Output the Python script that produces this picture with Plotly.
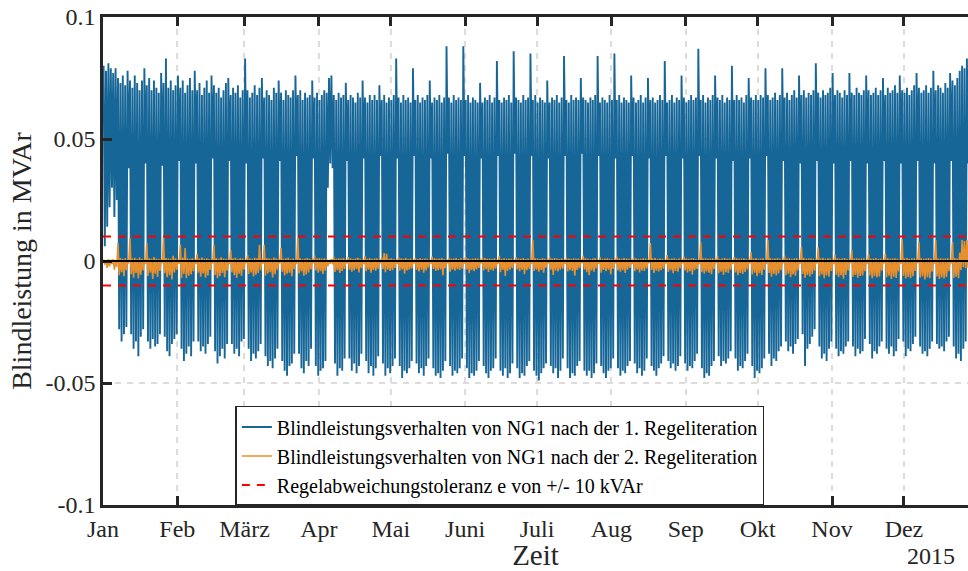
import pandas as pd
import plotly.graph_objects as go

# Daily extremes in kVAr, one row per calendar week (Mon..Sun).
# First row starts Thu 1 Jan 2015, last row ends Thu 31 Dec 2015.
BLUE_HIGH = [
    80, 78, 81, 79,
    77, 79, 75, 73, 76, 72, 78,
    74, 71, 76, 73, 70, 74, 79,
    72, 75, 70, 74, 71, 69, 77,
    73, 83, 71, 74, 70, 72, 76,
    71, 74, 69, 72, 75, 70, 78,
    70, 73, 68, 71, 74, 69, 76,
    72, 69, 71, 67, 70, 73, 75,
    68, 71, 69, 72, 67, 70, 83,
    70, 67, 69, 72, 68, 71, 75,
    67, 70, 68, 66, 71, 69, 74,
    69, 66, 70, 68, 67, 70, 76,
    68, 70, 66, 69, 67, 68, 74,
    67, 69, 66, 68, 70, 69, 75,
    76, 68, 66, 69, 67, 68, 73,
    66, 68, 67, 65, 69, 67, 74,
    67, 65, 68, 66, 68, 66, 72,
    66, 68, 65, 67, 66, 68, 83,
    67, 65, 68, 66, 67, 65, 79,
    66, 68, 65, 67, 66, 68, 74,
    65, 67, 66, 68, 65, 67, 88,
    67, 65, 68, 66, 67, 66, 88,
    66, 68, 65, 67, 66, 65, 73,
    65, 67, 66, 68, 65, 67, 82,
    66, 65, 67, 66, 68, 65, 86,
    67, 66, 65, 68, 66, 67, 85,
    66, 68, 65, 67, 66, 65, 74,
    65, 67, 66, 68, 65, 67, 84,
    66, 65, 68, 66, 67, 66, 75,
    67, 66, 65, 67, 66, 68, 84,
    65, 67, 66, 65, 68, 66, 85,
    66, 68, 65, 67, 66, 65, 76,
    67, 65, 66, 68, 65, 67, 75,
    66, 67, 65, 66, 68, 66, 82,
    65, 66, 68, 65, 67, 66, 76,
    67, 65, 66, 68, 66, 67, 87,
    66, 68, 65, 67, 66, 68, 76,
    67, 66, 68, 65, 67, 66, 80,
    66, 68, 66, 67, 65, 68, 75,
    67, 66, 68, 66, 68, 67, 79,
    68, 66, 67, 69, 66, 68, 79,
    67, 69, 66, 68, 70, 67, 76,
    68, 70, 67, 69, 68, 70, 81,
    69, 67, 70, 68, 69, 71, 77,
    68, 70, 69, 67, 70, 68, 77,
    69, 68, 71, 69, 68, 70, 76,
    70, 68, 69, 71, 68, 70, 75,
    68, 71, 69, 70, 72, 69, 76,
    70, 69, 71, 68, 70, 72, 77,
    71, 69, 70, 72, 69, 71, 78,
    70, 72, 71, 69, 73, 71, 77,
    74, 72, 75, 78, 80, 79, 83,
    80, 78, 81, 79,
]

BLUE_LOW = [
    6, 14, 22, 30,
    18, 25, -28, -33, -30, -27, 38,
    -30, -36, -33, -39, -31, -28, 40,
    -33, -36, -32, -35, -34, -30, 39,
    -31, -37, -39, -34, -32, -30, 41,
    -36, -41, -38, -35, -39, -33, 40,
    -33, -37, -35, -38, -34, -31, 42,
    -37, -42, -39, -36, -40, -34, 41,
    -34, -38, -36, -39, -33, -32, 40,
    -36, -41, -38, -40, -37, -34, 42,
    -39, -43, -41, -44, -40, -36, 41,
    -41, -45, -47, -43, -42, -38, 43,
    -38, -44, -46, -41, -43, -36, 42,
    -43, -47, -45, -44, -41, 30, 40,
    38, -42, -47, -44, -45, -40, 41,
    -40, -45, -42, -46, -43, -38, 42,
    -41, -46, -43, -47, -44, -39, 43,
    -42, -47, -44, -46, -43, -40, 42,
    -43, -48, -45, -46, -44, -41, 43,
    -42, -46, -44, -47, -43, -40, 42,
    -44, -47, -46, -48, -45, -41, 44,
    -43, -47, -45, -46, -44, -40, 43,
    -44, -48, -46, -47, -45, -41, 42,
    -43, -46, -48, -45, -44, -40, 43,
    -45, -47, -44, -48, -46, -42, 44,
    -44, -48, -46, -47, -43, -41, 43,
    -45, -47, -49, -46, -44, -42, 42,
    -43, -46, -44, -48, -45, -40, 43,
    -44, -48, -46, -47, -43, -41, 44,
    -45, -47, -45, -48, -46, -42, 43,
    -43, -46, -48, -45, -44, -40, 42,
    -44, -47, -45, -46, -43, -41, 43,
    -42, -46, -44, -47, -45, -40, 42,
    -43, -45, -47, -44, -42, -39, 43,
    -41, -44, -42, -45, -43, -39, 42,
    -42, -45, -43, -44, -41, -38, 43,
    -44, -48, -46, -47, -43, -41, 42,
    -39, -43, -41, -42, -40, -37, 41,
    -40, -45, -43, -44, -41, -38, 42,
    -43, -48, -45, -46, -44, -40, 43,
    -38, -43, -40, -41, -37, -35, 41,
    -33, -37, -35, -38, -34, -32, 40,
    -30, -43, -36, -34, -31, -28, 41,
    -35, -40, -38, -41, -36, -33, 40,
    -36, -39, -37, -38, -35, -33, 41,
    -35, -39, -36, -38, -37, -32, 40,
    -34, -40, -37, -38, -35, -33, 41,
    -36, -38, -35, -39, -37, -32, 40,
    -33, -39, -36, -37, -34, -31, 41,
    -35, -38, -37, -39, -36, -33, 40,
    -34, -36, -35, -37, -33, -31, 41,
    -35, -40, -38, -41, -36, -33, 40,
    -34, -38, -36, -37,
]

ORANGE_HIGH = [
    0.6, 0.4, 0.8, 0.5,
    0.7, 0.5, 7.4, 1.2, 0.9, 1.1, 0.6,
    9.4, 1.0, 1.3, 0.8, 1.4, 0.9, 0.5,
    7.4, 1.1, 0.9, 1.6, 1.0, 0.8, 0.6,
    9.4, 1.2, 1.0, 0.9, 2.1, 1.1, 0.5,
    6.6, 1.3, 5.3, 1.0, 0.8, 1.2, 0.6,
    2.8, 1.0, 1.4, 0.9, 1.1, 0.8, 0.5,
    6.6, 1.2, 0.9, 1.5, 1.0, 0.9, 0.6,
    4.5, 1.1, 1.3, 0.8, 1.2, 1.0, 0.5,
    2.4, 1.0, 0.9, 1.3, 1.1, 6.6, 0.7,
    6.6, 1.2, 1.0, 0.9, 1.4, 1.1, 0.6,
    5.3, 0.9, 1.1, 1.3, 0.8, 1.0, 0.5,
    9.4, 1.1, 0.8, 1.0, 1.2, 0.9, 0.6,
    2.2, 1.0, 1.2, 0.9, 1.1, 0.8, 0.5,
    0.7, 1.8, 0.9, 1.1, 1.0, 1.2, 0.6,
    1.6, 1.1, 0.8, 1.0, 1.3, 0.9, 0.5,
    2.0, 0.9, 1.2, 0.8, 1.0, 1.1, 0.6,
    1.4, 3.3, 3.0, 0.9, 1.1, 0.8, 0.5,
    1.5, 1.0, 0.9, 1.2, 0.8, 1.0, 0.6,
    1.2, 0.8, 1.1, 0.9, 1.0, 0.9, 0.5,
    1.8, 1.1, 0.9, 1.0, 1.2, 0.8, 0.6,
    1.3, 0.9, 1.0, 1.2, 0.8, 1.1, 0.5,
    1.6, 1.0, 0.8, 0.9, 1.1, 1.0, 0.6,
    1.4, 1.2, 0.9, 1.0, 0.8, 1.1, 0.5,
    2.1, 0.8, 1.1, 0.9, 1.0, 0.9, 0.6,
    1.5, 1.0, 0.9, 1.2, 0.8, 1.0, 0.5,
    8.6, 1.1, 1.0, 0.8, 1.2, 0.9, 0.6,
    1.7, 0.9, 1.2, 1.0, 0.8, 1.1, 0.5,
    1.3, 1.0, 0.8, 1.1, 0.9, 1.0, 0.6,
    2.2, 1.1, 0.9, 0.8, 1.0, 1.2, 0.5,
    1.6, 0.8, 1.0, 1.1, 0.9, 0.8, 0.6,
    1.9, 1.0, 0.9, 1.2, 1.0, 0.9, 0.5,
    1.4, 1.1, 0.8, 0.9, 1.1, 1.0, 0.6,
    7.4, 1.0, 1.2, 0.8, 1.0, 0.9, 0.5,
    2.4, 0.9, 1.0, 1.1, 0.8, 1.0, 0.6,
    1.8, 1.1, 0.9, 1.0, 1.2, 0.8, 0.5,
    7.8, 1.0, 1.1, 0.9, 1.0, 1.1, 0.6,
    2.0, 0.8, 1.0, 1.2, 0.9, 1.0, 0.5,
    1.6, 1.1, 0.9, 1.0, 1.1, 0.8, 0.6,
    3.6, 1.0, 1.2, 0.9, 1.0, 1.1, 0.5,
    8.6, 1.1, 0.9, 1.0, 1.2, 0.9, 0.6,
    2.2, 1.0, 1.1, 0.8, 1.0, 1.2, 0.5,
    5.7, 1.2, 0.9, 1.1, 1.0, 0.9, 0.6,
    5.5, 1.0, 1.2, 0.9, 1.1, 1.0, 0.5,
    2.6, 1.1, 0.9, 1.0, 1.2, 0.8, 0.6,
    4.5, 1.0, 1.1, 0.9, 1.0, 1.1, 0.5,
    2.8, 0.9, 1.0, 1.2, 0.8, 1.0, 0.6,
    3.0, 1.1, 0.9, 1.0, 1.1, 0.9, 0.5,
    9.0, 1.0, 1.2, 0.9, 1.0, 1.1, 0.6,
    7.8, 1.1, 0.9, 1.0, 1.2, 1.0, 0.6,
    8.6, 1.0, 1.1, 0.9, 1.0, 1.1, 0.6,
    7.8, 1.2, 1.0, 3.5, 8.6, 8.2, 8.6,
    6.0, 4.0, 3.5, 5.0,
]

ORANGE_LOW = [
    -1.5, -2.8, -2.2, -1.2,
    -3.6, -2.4, -5.8, -4.6, -6.2, -3.8, -1.0,
    -5.4, -6.8, -4.9, -7.2, -5.6, -3.9, -1.2,
    -6.1, -4.8, -7.4, -5.2, -6.5, -4.1, -0.9,
    -5.0, -6.6, -5.8, -7.6, -4.7, -3.6, -1.1,
    -6.9, -5.3, -7.1, -6.0, -5.5, -4.2, -1.3,
    -4.8, -6.4, -5.1, -6.8, -5.9, -3.7, -1.0,
    -5.7, -7.0, -6.2, -4.9, -6.6, -4.0, -1.2,
    -4.6, -5.8, -6.9, -5.2, -6.1, -3.5, -0.9,
    -5.3, -4.7, -6.3, -5.6, -4.9, -3.8, -1.1,
    -6.0, -5.1, -4.6, -6.7, -5.4, -3.6, -1.0,
    -4.4, -5.9, -5.2, -4.8, -6.2, -3.3, -1.2,
    -5.1, -4.3, -6.0, -5.5, -4.7, -3.4, -0.9,
    -3.9, -4.8, -4.2, -5.3, -4.0, -2.2, -1.1,
    -1.4, -4.5, -3.8, -4.9, -4.1, -3.2, -1.0,
    -3.6, -4.4, -3.9, -3.2, -4.7, -2.9, -1.2,
    -4.2, -3.5, -4.8, -3.7, -4.0, -3.1, -0.9,
    -3.3, -4.6, -3.6, -4.1, -3.8, -2.8, -1.1,
    -4.0, -3.4, -5.2, -3.9, -3.5, -3.0, -1.0,
    -3.7, -4.3, -3.5, -4.8, -3.9, -2.7, -1.2,
    -3.2, -4.1, -3.8, -3.4, -5.9, -2.9, -0.9,
    -4.4, -3.6, -4.0, -3.3, -3.7, -3.1, -1.1,
    -3.5, -4.9, -3.7, -4.2, -3.4, -2.8, -1.0,
    -3.9, -3.3, -4.5, -3.6, -4.0, -3.0, -1.2,
    -4.6, -3.7, -6.1, -4.0, -3.5, -2.9, -0.9,
    -3.4, -4.2, -3.6, -5.4, -3.8, -3.2, -1.1,
    -4.1, -3.5, -4.4, -3.7, -4.8, -2.7, -1.0,
    -3.6, -5.7, -3.9, -4.3, -3.5, -3.1, -1.2,
    -4.3, -3.8, -4.1, -6.0, -3.7, -2.9, -0.9,
    -3.5, -4.6, -5.8, -3.9, -4.4, -3.0, -1.1,
    -4.8, -3.7, -4.2, -3.6, -5.5, -3.2, -1.0,
    -3.9, -4.4, -3.8, -4.9, -3.6, -2.8, -1.2,
    -4.2, -3.6, -4.7, -3.9, -4.1, -3.0, -0.9,
    -3.7, -4.9, -4.0, -4.3, -3.8, -3.1, -1.1,
    -4.5, -3.8, -5.0, -4.1, -4.4, -2.9, -1.0,
    -3.9, -4.7, -4.2, -5.6, -3.8, -3.2, -1.2,
    -4.6, -5.1, -4.3, -4.8, -5.4, -3.3, -0.9,
    -5.0, -4.4, -5.7, -4.6, -4.9, -3.5, -1.1,
    -4.7, -5.8, -4.9, -5.3, -4.5, -3.4, -1.0,
    -5.5, -4.8, -6.2, -5.0, -5.7, -3.6, -1.2,
    -4.9, -6.4, -5.3, -5.9, -5.1, -3.8, -0.9,
    -5.8, -5.2, -6.6, -5.5, -6.0, -3.9, -1.1,
    -5.3, -6.9, -5.7, -6.3, -5.4, -4.0, -1.0,
    -6.2, -5.5, -7.0, -5.9, -6.4, -4.1, -1.2,
    -5.6, -6.5, -5.8, -7.3, -5.7, -3.9, -0.9,
    -6.4, -5.7, -6.8, -6.1, -5.9, -4.2, -1.1,
    -5.9, -7.1, -6.2, -6.7, -6.3, -4.0, -1.0,
    -6.6, -6.0, -7.4, -6.4, -6.9, -4.3, -1.2,
    -6.1, -7.2, -6.5, -7.0, -6.2, -4.1, -0.9,
    -6.8, -6.3, -7.6, -6.6, -7.1, -4.4, -1.1,
    -6.3, -7.4, -6.7, -7.2, -6.5, -4.2, -1.0,
    -6.9, -6.4, -7.1, -3.8, -2.5, -3.0, -2.8,
    -4.0, -3.5, -3.0, -2.8,
]

TOLERANCE_KVAR = 10
MONTH_LABELS = ['Jan', 'Feb', 'März', 'Apr', 'Mai', 'Juni', 'Juli',
                'Aug', 'Sep', 'Okt', 'Nov', 'Dez']
Y_TICKS = [-0.1, -0.05, 0, 0.05, 0.1]
Y_LABELS = ['-0.1', '-0.05', '0', '0.05', '0.1']

FONT = 'Liberation Serif, Times New Roman, serif'
AXIS_COLOR = '#262626'
BLUE = '#176698'
ORANGE = '#e88f2e'


def zigzag(highs, lows):
    """Interleave daily high/low values (kVAr) into a time series in MVAr."""
    days = pd.date_range('2015-01-01', periods=len(highs), freq='D')
    x, y = [], []
    for d, hi, lo in zip(days, highs, lows):
        x += [d + pd.Timedelta(hours=6), d + pd.Timedelta(hours=18)]
        y += [hi / 1000, lo / 1000]
    return x, y


bx, by = zigzag(BLUE_HIGH, BLUE_LOW)
ox, oy = zigzag(ORANGE_HIGH, ORANGE_LOW)

x_start = pd.Timestamp('2015-01-01')
x_end = pd.Timestamp('2015-12-27 17:00')
tol = TOLERANCE_KVAR / 1000

fig = go.Figure()

fig.add_trace(go.Scatter(
    x=bx, y=by, mode='lines',
    name='Blindleistungsverhalten von NG1 nach der 1. Regeliteration',
    line=dict(color=BLUE, width=1.9),
))
fig.add_trace(go.Scatter(
    x=ox, y=oy, mode='lines',
    name='Blindleistungsverhalten von NG1 nach der 2. Regeliteration',
    line=dict(color=ORANGE, width=1.6),
))
fig.add_trace(go.Scatter(
    x=[x_start, x_end, None, x_start, x_end],
    y=[tol, tol, None, -tol, -tol],
    mode='lines',
    name='Regelabweichungstoleranz e von +/- 10 kVAr',
    line=dict(color='#ff0000', width=2, dash='8px,7px'),
))

# black zero line on top of the traces
fig.add_shape(type='line', xref='paper', x0=0, x1=1, yref='y', y0=0, y1=0,
              line=dict(color='black', width=2), layer='above')

month_ticks = pd.date_range('2015-01-01', periods=12, freq='MS')

fig.add_annotation(text='2015', xref='paper', yref='paper',
                   x=0.957, y=-0.104, xanchor='center', yanchor='middle',
                   showarrow=False, font=dict(size=24, color=AXIS_COLOR, family=FONT))

fig.update_layout(
    width=968, height=571,
    margin=dict(l=103, r=0, t=17, b=66),
    paper_bgcolor='white', plot_bgcolor='white',
    font=dict(family=FONT, color=AXIS_COLOR, size=24),
    showlegend=True,
    legend=dict(
        x=0.153, y=0.203, xanchor='left', yanchor='top',
        bgcolor='white', bordercolor=AXIS_COLOR, borderwidth=1.5,
        font=dict(size=20, family=FONT, color='black'),
        tracegroupgap=0, itemwidth=30,
    ),
    xaxis=dict(
        range=[x_start, x_end],
        tickvals=list(month_ticks), ticktext=MONTH_LABELS,
        ticks='inside', ticklen=9, tickwidth=2.5, tickcolor=AXIS_COLOR,
        showline=True, linecolor=AXIS_COLOR, linewidth=2.5, mirror='ticks',
        showgrid=True, gridcolor='#dcdcdc', gridwidth=1.5, griddash='6px,6px',
        zeroline=False, automargin=False,
        tickfont=dict(size=24),
        title=dict(text='Zeit', font=dict(size=29), standoff=2),
    ),
    yaxis=dict(
        range=[-0.1, 0.1],
        tickvals=Y_TICKS, ticktext=Y_LABELS,
        ticks='inside', ticklen=9, tickwidth=2.5, tickcolor=AXIS_COLOR,
        showline=True, linecolor=AXIS_COLOR, linewidth=2.5,
        showgrid=True, gridcolor='#dcdcdc', gridwidth=1.5, griddash='6px,6px',
        zeroline=False, automargin=False,
        tickfont=dict(size=24),
        title=dict(text='Blindleistung in MVAr', font=dict(size=28), standoff=6),
    ),
)

# drop the browser's default body margin so the figure sits at the page corner
fig.write_html('out.html', config={'displayModeBar': False},
               post_script="document.body.style.margin='0';")
